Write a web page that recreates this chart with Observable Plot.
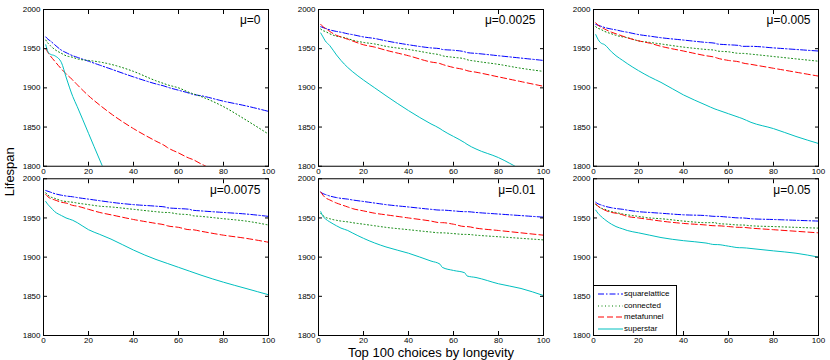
<!DOCTYPE html>
<html><head><meta charset="utf-8">
<script src="https://cdn.jsdelivr.net/npm/d3@7"></script>
<script src="https://cdn.jsdelivr.net/npm/@observablehq/plot@0.6"></script>
<style>
body{margin:0;background:#fff;}
#chart{position:relative;width:830px;height:360px;font-family:"Liberation Sans",Arial,Helvetica,sans-serif;}
#legend{position:absolute;left:593px;top:285px;width:84px;height:51px;border:1px solid #000;background:#fff;box-sizing:border-box;font-size:8px;color:#000;}
#legend .row{position:absolute;left:0;height:10px;width:82px;}
#legend svg{position:absolute;left:4px;top:0;}
#legend span{position:absolute;left:30px;top:0;line-height:10px;white-space:nowrap;}
</style></head><body><div id="chart"></div>
<script>
const panels = ["μ=0","μ=0.0025","μ=0.005","μ=0.0075","μ=0.01","μ=0.05"];
const seriesNames = ["squarelattice","connected","metafunnel","superstar"];
const seriesColors = ["#0000ff","#008000","#ff0000","#00bfbf"];
const seriesDash = ["6,2,1.5,2","1,2.5","6,3","none"];
const xTicks = [0,20,40,60,80,100];
const yTicks = [1800,1850,1900,1950,2000];
const xs = [1,2,3,5,8,10,13,15,20,25,30,40,50,54,55,60,65,66,70,80,90,100];

// one row per panel (mu = 0, 0.0025, 0.005, 0.0075, 0.01, 0.05)
const squarelattice = [
  [1965,1962,1960,1955,1948,1945,1941,1939,1934,1929,1924,1914,1905,1902,1901,1897,1893,1892,1890,1883,1877,1870],
  [1978,1977,1976,1974,1972,1971,1969,1968,1965,1963,1960,1955,1951,1950,1949,1948,1946,1945,1944,1941,1938,1935],
  [1981,1980,1979,1977,1975,1974,1972,1971,1968,1966,1964,1961,1958,1957,1956,1955,1954,1953,1953,1951,1949,1947],
  [1985,1984,1983,1981,1979,1978,1977,1976,1974,1972,1970,1967,1965,1964,1963,1962,1961,1960,1959,1957,1955,1952],
  [1983,1981,1980,1978,1976,1975,1974,1973,1971,1969,1967,1964,1961,1960,1960,1959,1958,1958,1957,1955,1953,1951],
  [1970,1968,1967,1965,1963,1962,1961,1960,1958,1957,1956,1954,1953,1952,1952,1951,1950,1950,1949,1948,1947,1946]
];
const connected = [
  [1961,1957,1954,1949,1944,1941,1939,1937,1935,1933,1930,1921,1909,1905,1904,1900,1894,1893,1889,1876,1859,1841],
  [1975,1973,1972,1969,1966,1965,1963,1961,1958,1956,1953,1949,1944,1942,1941,1939,1937,1936,1934,1930,1925,1921],
  [1978,1976,1975,1972,1969,1967,1965,1964,1960,1958,1956,1952,1949,1948,1947,1946,1944,1944,1943,1940,1937,1934],
  [1982,1979,1977,1975,1972,1971,1970,1969,1967,1965,1964,1961,1958,1957,1957,1955,1954,1953,1952,1949,1946,1941],
  [1956,1953,1951,1949,1947,1946,1945,1944,1942,1940,1938,1935,1932,1931,1931,1930,1929,1929,1928,1926,1924,1922],
  [1967,1965,1963,1961,1958,1957,1955,1954,1952,1950,1949,1946,1944,1944,1943,1942,1941,1941,1940,1939,1938,1937]
];
const metafunnel = [
  [1950,1945,1941,1934,1924,1918,1910,1904,1890,1878,1867,1848,1832,1826,1824,1817,1810,1809,1803,1790,1777,1765],
  [1981,1978,1976,1972,1967,1965,1962,1960,1955,1952,1948,1941,1933,1931,1930,1926,1923,1922,1920,1914,1908,1902],
  [1983,1980,1978,1975,1971,1969,1966,1964,1960,1957,1953,1947,1941,1939,1938,1935,1933,1932,1930,1925,1920,1915],
  [1980,1977,1975,1973,1970,1969,1966,1965,1961,1957,1954,1948,1943,1941,1940,1938,1935,1935,1933,1928,1924,1919],
  [1983,1979,1976,1973,1969,1967,1964,1962,1959,1956,1954,1950,1946,1944,1944,1942,1939,1939,1937,1934,1931,1928],
  [1968,1965,1963,1960,1957,1956,1954,1952,1950,1948,1946,1943,1941,1940,1940,1939,1938,1938,1937,1935,1933,1931]
];
const superstar = [
  [1955,1946,1943,1941,1932,1914,1889,1876,1842,1808,1775,null,null,null,null,null,null,null,null,null,null,null],
  [1970,1965,1960,1954,1942,1935,1926,1921,1910,1900,1890,1871,1854,1848,1846,1838,1830,1828,1822,1811,1796,1782],
  [1968,1962,1958,1955,1946,1941,1935,1931,1922,1914,1907,1891,1878,1873,1872,1867,1862,1861,1856,1848,1838,1829],
  [1971,1967,1964,1958,1953,1950,1947,1944,1935,1929,1923,1909,1897,1893,1892,1887,1882,1881,1877,1868,1860,1852],
  [1958,1952,1949,1945,1940,1937,1934,1931,1924,1918,1913,1905,1895,1891,1887,1883,1880,1876,1874,1866,1860,1851],
  [1960,1956,1953,1948,1942,1939,1936,1934,1931,1928,1925,1921,1918,1916,1916,1914,1912,1912,1911,1908,1905,1900]
];
const allSeries = [squarelattice, connected, metafunnel, superstar];

const rows = [];
panels.forEach((p, i) => {
  seriesNames.forEach((s, j) => {
    const vals = allSeries[j][i];
    xs.forEach((x, k) => {
      if (vals[k] != null) rows.push({col: i % 3, row: Math.floor(i / 3), series: s, x, y: vals[k]});
    });
  });
});
const panelLabels = panels.map((p, i) => ({col: i % 3, row: Math.floor(i / 3), label: p}));

const font = '"Liberation Sans", Arial, Helvetica, sans-serif';
const plot = Plot.plot({
  width: 830, height: 360,
  marginLeft: 43, marginRight: 12, marginTop: 9, marginBottom: 25,
  style: {fontFamily: font, fontSize: "8px", color: "#000", background: "#fff"},
  fx: {domain: [0,1,2], paddingInner: 0.1818, paddingOuter: 0, axis: null, round: false},
  fy: {domain: [0,1], paddingInner: 0.074, paddingOuter: 0, axis: null, round: false},
  x: {domain: [0,100]},
  y: {domain: [1800,2000]},
  marks: [
    ...seriesNames.map((s, j) => Plot.line(rows.filter(d => d.series === s), {
      x: "x", y: "y", fx: "col", fy: "row",
      stroke: seriesColors[j], strokeWidth: 1, strokeDasharray: seriesDash[j],
      curve: "monotone-x", clip: true
    })),
    Plot.frame({stroke: "#000", strokeWidth: 1}),
    Plot.axisX(xTicks, {anchor: "bottom", facetAnchor: null, tickSize: -4, tickPadding: 6, label: null, fontSize: 8, tickFormat: d3.format("d")}),
    Plot.axisX(xTicks, {anchor: "top", facetAnchor: null, tickSize: -4, tickFormat: () => "", label: null}),
    Plot.axisY(yTicks, {anchor: "left", facetAnchor: null, tickSize: -4, tickPadding: 7, label: null, fontSize: 8, tickFormat: d3.format("d")}),
    Plot.axisY(yTicks, {anchor: "right", facetAnchor: null, tickSize: -4, tickFormat: () => "", label: null}),
    Plot.text(panelLabels, {fx: "col", fy: "row", text: "label", frameAnchor: "top-right",
      dx: -8, dy: 11, textAnchor: "end", lineAnchor: "middle", fontSize: 12}),
    Plot.text([{col: 0, row: 1, t: "Lifespan"}], {fx: "col", fy: "row", text: "t", frameAnchor: "top-left",
      rotate: -90, dx: -34, dy: -7, textAnchor: "middle", lineAnchor: "middle", fontSize: 13}),
    Plot.text([{col: 1, row: 1, t: "Top 100 choices by longevity"}], {fx: "col", fy: "row", text: "t", frameAnchor: "bottom",
      dy: 17, textAnchor: "middle", lineAnchor: "middle", fontSize: 13})
  ]
});
const chart = document.getElementById("chart");
chart.appendChild(plot);

// legend
const legend = document.createElement("div");
legend.id = "legend";
seriesNames.forEach((s, j) => {
  const r = document.createElement("div");
  r.className = "row";
  r.style.top = (3 + j * 11.5) + "px";
  r.innerHTML = `<svg width="25" height="10"><line x1="0" x2="25" y1="5" y2="5" stroke="${seriesColors[j]}" stroke-width="1" stroke-dasharray="${seriesDash[j]}"/></svg><span>${s}</span>`;
  legend.appendChild(r);
});
chart.appendChild(legend);
</script></body></html>
